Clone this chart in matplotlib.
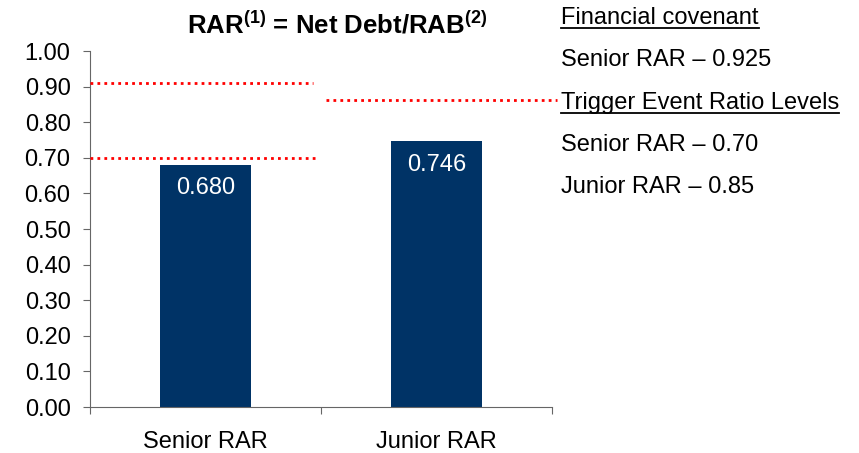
import matplotlib.pyplot as plt
from matplotlib.lines import Line2D

plt.rcParams['font.family'] = ['Liberation Sans', 'DejaVu Sans']
plt.rcParams['mathtext.fontset'] = 'custom'
plt.rcParams['mathtext.rm'] = 'Liberation Sans'
plt.rcParams['mathtext.bf'] = 'Liberation Sans:bold'

# data
categories = ['Senior RAR', 'Junior RAR']
rar_values = [0.680, 0.746]
value_labels = ['0.680', '0.746']
yticks = [0.0, 0.1, 0.2, 0.3, 0.4, 0.5, 0.6, 0.7, 0.8, 0.9, 1.0]

# threshold lines as drawn: (level, x start, x end)
thresholds = [(0.91, -0.5, 0.465), (0.70, -0.5, 0.48), (0.862, 0.52, 1.52)]

side_text = ['Financial covenant', 'Senior RAR \u2013 0.925',
             'Trigger Event Ratio Levels', 'Senior RAR \u2013 0.70',
             'Junior RAR \u2013 0.85']
side_underlined = [True, False, True, False, False]

bar_color = '#003366'
fs = 17

fig = plt.figure(figsize=(8.59, 4.53), dpi=100)
ax = fig.add_axes([90/859, 1 - 407/453, (552-90)/859, (407-51)/453])

x = list(range(len(categories)))
ax.bar(x, rar_values, width=0.39, color=bar_color, zorder=2)
for xi, v, lab in zip(x, rar_values, value_labels):
    ax.text(xi, v - 0.035, lab, color='white', ha='center', va='top', fontsize=fs)

for level, x0, x1 in thresholds:
    ax.plot([x0, x1], [level, level], color='#ff0000', linestyle=(0, (1, 1.5)),
            linewidth=2, clip_on=False, zorder=3)

ax.set_xlim(-0.5, 1.5)
ax.set_ylim(0, 1.0)
ax.set_yticks(yticks)
ax.set_yticklabels(['%.2f' % t for t in yticks], fontsize=fs)
ax.set_xticks([-0.5, 0.5, 1.5])
ax.set_xticklabels([])
ax.set_xticks(x, minor=True)
ax.set_xticklabels(categories, minor=True, fontsize=fs)
ax.tick_params(axis='x', which='minor', length=0, pad=17)
ax.tick_params(axis='x', which='major', length=5, color='#666666', direction='out')
ax.tick_params(axis='y', length=5, color='#666666', pad=9)
for s in ['top', 'right']:
    ax.spines[s].set_visible(False)
for s in ['left', 'bottom']:
    ax.spines[s].set_color('#666666')

fig.text(337/859, 1 - 25/453, r'RAR$^{\mathbf{(1)}}$ = Net Debt/RAB$^{\mathbf{(2)}}$',
         ha='center', va='center', fontsize=18.5, fontweight='bold')

# side notes
ys = [18, 60, 103, 145, 187]
texts = []
for t, y in zip(side_text, ys):
    texts.append(fig.text(561/859, 1 - y/453, t, ha='left', va='center', fontsize=fs))

fig.canvas.draw()
r = fig.canvas.get_renderer()
for t, u in zip(texts, side_underlined):
    if u:
        bb = t.get_window_extent(r).transformed(fig.transFigure.inverted())
        yl = bb.y0 + 0.003
        fig.add_artist(Line2D([bb.x0, bb.x1], [yl, yl], color='black', linewidth=1.3,
                              transform=fig.transFigure))

plt.savefig('out.png', dpi=100)
